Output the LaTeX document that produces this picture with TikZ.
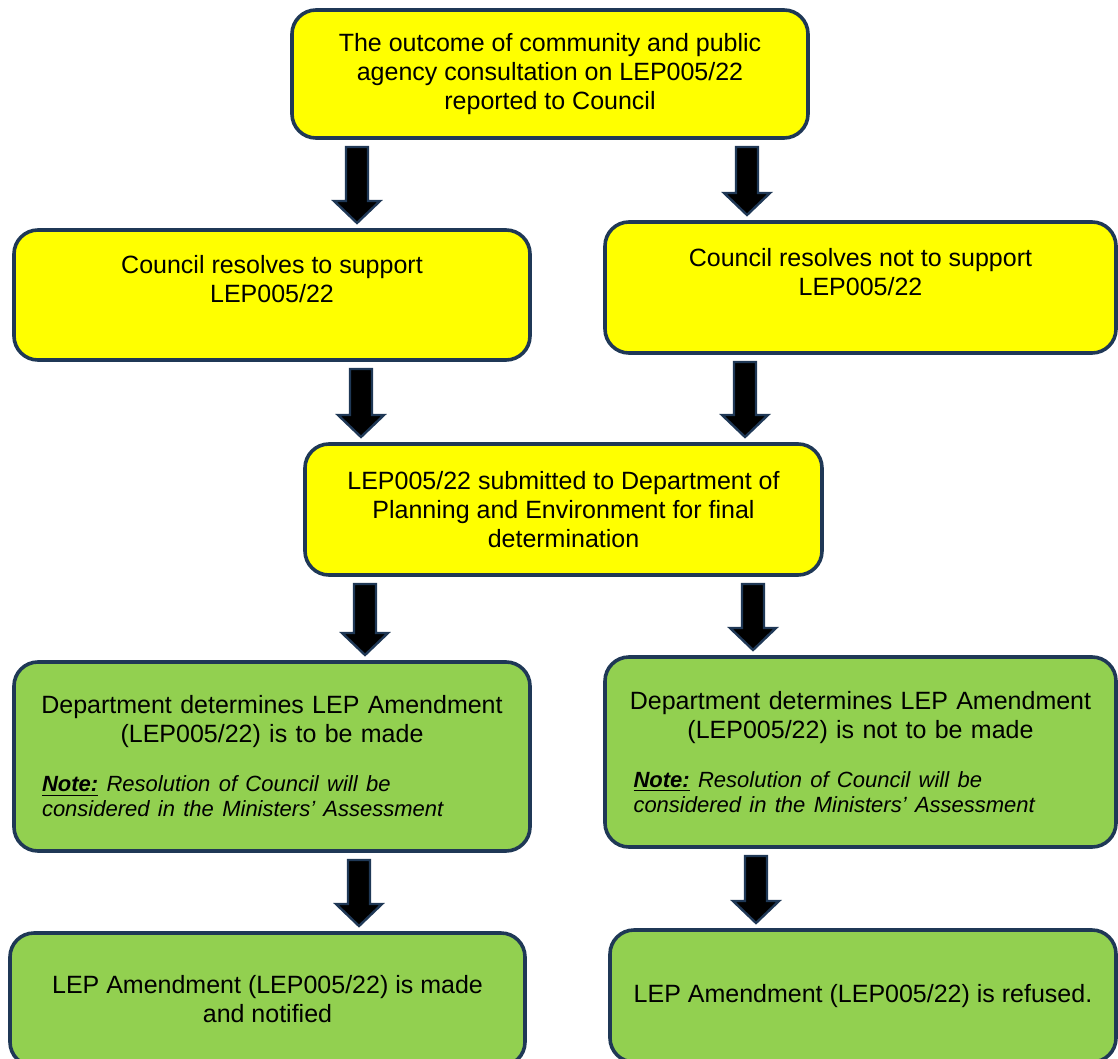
\documentclass[tikz,border=0pt]{standalone}
\usepackage{fontspec}
\setmainfont{Liberation Sans}
\usetikzlibrary{positioning,calc}
\definecolor{boxline}{RGB}{31,56,86}
\definecolor{boxyellow}{RGB}{255,255,0}
\definecolor{boxgreen}{RGB}{146,208,80}
\tikzset{%
stepnode/.style={rectangle, rounded corners=12pt, draw=boxline, line width=1.8pt, outer sep=0pt, text=black, font=\fontsize{12.5}{14.5}\selectfont},
yellowbox/.style={stepnode, fill=boxyellow, align=center},
greenbox/.style={stepnode, fill=boxgreen},
downarrow/.style={draw=boxline, fill=black, line width=1.2pt, line join=miter,
  to path={let \p1=(\tikztostart), \p2=(\tikztotarget) in
    ({\x1-5.5pt},{\y1-4.5pt}) -- ({\x1+5.5pt},{\y1-4.5pt}) -- ({\x1+5.5pt},{\y2+14.5pt})
    -- ({\x1+11.5pt},{\y2+14.5pt}) -- (\x1,{\y2+3.5pt}) -- ({\x1-11.5pt},{\y2+14.5pt})
    -- ({\x1-5.5pt},{\y2+14.5pt}) -- cycle}}
}
\newcommand{\notetext}{\fontsize{11}{12.5}\selectfont\itshape\underline{\textbf{Note:}} Resolution of Council will be\\considered in the Ministers’ Assessment\par}

\begin{document}
\begin{tikzpicture}[x=0.5pt, y=-0.5pt]
	\useasboundingbox (0,0) rectangle (1118,1059);
	
	\node[yellowbox, minimum width=258pt, minimum height=64pt] (top) at (550,74) {The outcome of community and public\\agency consultation on LEP005/22\\reported to Council};
	\node[yellowbox, minimum width=258pt, minimum height=65pt, text depth=16pt] (support) [below=46pt of top, xshift=-139pt] {Council resolves to support\\LEP005/22};
	\node[yellowbox, minimum width=255.5pt, minimum height=65.5pt, text depth=16pt] (notsupport) [below=42pt of top, xshift=155.25pt] {Council resolves not to support\\LEP005/22};
	\node[yellowbox, minimum width=258.5pt, minimum height=65.5pt] (submitted) [below=42pt of support, xshift=145.75pt] {LEP005/22 submitted to Department of\\Planning and Environment for final\\determination};
	
	\node[greenbox, text width=244pt, minimum width=258pt, minimum height=94.5pt] (made) [below=43.5pt of submitted, xshift=-145.75pt] {\centering Department determines LEP Amendment\\(LEP005/22) is to be made\par\vspace{12pt}\raggedright\leftskip=7pt\notetext};
	\node[greenbox, text width=241pt, minimum width=255.5pt, minimum height=95pt] (notmade) [below=41pt of submitted, xshift=148.5pt] {\centering Department determines LEP Amendment\\(LEP005/22) is not to be made\par\vspace{12pt}\raggedright\leftskip=7pt\notetext};
	\node[greenbox, align=center, minimum width=257.5pt, minimum height=66.5pt] (notified) [below=41pt of made, xshift=-2.25pt] {LEP Amendment (LEP005/22) is made\\and notified};
	\node[greenbox, align=center, minimum width=253pt, minimum height=66pt] (refused) [below=41.5pt of notmade, xshift=1.25pt] {LEP Amendment (LEP005/22) is refused.};
	
	\draw[downarrow] (top.south -| 357,0) to (support.north -| 357,0);
	\draw[downarrow] (top.south -| 747,0) to (notsupport.north -| 747,0);
	\draw[downarrow] (support.south -| 361,0) to (submitted.north -| 361,0);
	\draw[downarrow] (notsupport.south -| 745,0) to (submitted.north -| 745,0);
	\draw[downarrow] (submitted.south -| 365,0) to (made.north -| 365,0);
	\draw[downarrow] (submitted.south -| 753,0) to (notmade.north -| 753,0);
	\draw[downarrow] (made.south -| 359,0) to (notified.north -| 359,0);
	\draw[downarrow] (notmade.south -| 756,0) to (refused.north -| 756,0);
\end{tikzpicture}
\end{document}
